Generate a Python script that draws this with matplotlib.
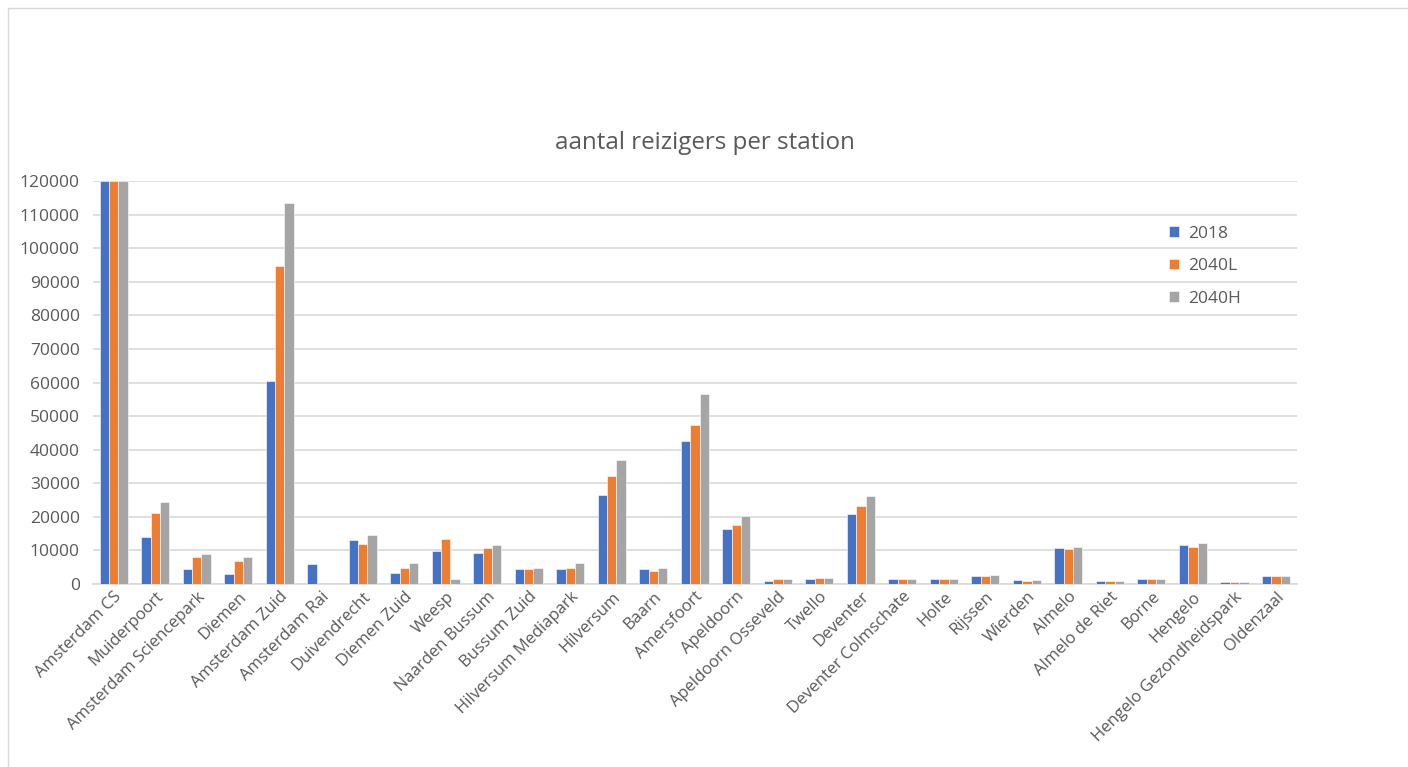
import numpy as np
import matplotlib.pyplot as plt
from matplotlib.lines import Line2D

plt.rcParams['font.family'] = ['Open Sans', 'DejaVu Sans']

stations = ['Amsterdam CS', 'Muiderpoort', 'Amsterdam Sciencepark', 'Diemen',
            'Amsterdam Zuid', 'Amsterdam Rai', 'Duivendrecht', 'Diemen Zuid',
            'Weesp', 'Naarden Bussum', 'Bussum Zuid', 'Hilversum Mediapark',
            'Hilversum', 'Baarn', 'Amersfoort', 'Apeldoorn', 'Apeldoorn Osseveld',
            'Twello', 'Deventer', 'Deventer Colmschate', 'Holte', 'Rijssen',
            'Wierden', 'Almelo', 'Almelo de Riet', 'Borne', 'Hengelo',
            'Hengelo Gezondheidspark', 'Oldenzaal']

r2018 = [120000, 14000, 4500, 3000, 60500, 5900, 13100, 3300, 9900, 9300,
         4400, 4400, 26500, 4400, 42600, 16500, 1000, 1400, 20800, 1400, 1400,
         2500, 1300, 10700, 900, 1600, 11600, 600, 2500]
r2040L = [120000, 21100, 7900, 6700, 94700, 0, 12000, 4700, 13400, 10700,
          4400, 4700, 32200, 3900, 47400, 17700, 1400, 1700, 23100, 1400, 1400,
          2500, 1000, 10400, 900, 1600, 11000, 600, 2500]
r2040H = [120000, 24500, 8900, 7900, 113600, 0, 14500, 6200, 1600, 11600,
          4700, 6200, 37000, 4700, 56500, 20200, 1400, 1900, 26200, 1400, 1400,
          2800, 1300, 11000, 900, 1600, 12200, 600, 2500]

series = ['2018', '2040L', '2040H']
colors = ['#4472C4', '#ED7D31', '#A5A5A5']
text_color = '#595959'

fig = plt.figure(figsize=(14.08, 7.67), dpi=100)
ax = fig.add_axes([0.066, 0.2386, 0.855, 0.5254])

x = np.arange(len(stations))
w = 0.225
for k, (vals, name, c) in enumerate(zip([r2018, r2040L, r2040H], series, colors)):
    ax.bar(x + (k - 1) * w, vals, width=w, color=c, edgecolor='white',
           linewidth=0.4, label=name, zorder=3)

ax.set_xlim(-0.5, len(stations) - 0.5)
ax.set_ylim(0, 120000)
ax.set_yticks(np.arange(0, 120001, 10000))
ax.set_yticklabels([str(v) for v in range(0, 120001, 10000)])
ax.yaxis.grid(True, color='#d9d9d9', linewidth=1.2, zorder=0)
ax.set_axisbelow(True)
for s in ['top', 'right', 'left']:
    ax.spines[s].set_visible(False)
ax.spines['bottom'].set_color('#d9d9d9')
ax.spines['bottom'].set_linewidth(1.2)
ax.tick_params(axis='both', length=0, colors=text_color, labelsize=12)
ax.tick_params(axis='y', pad=9.5, labelsize=12.5)

ax.set_xticks(x)
ax.set_xticklabels(stations, rotation=45, ha='right', rotation_mode='anchor')

fig.text(0.501, 0.8136, 'aantal reizigers per station', ha='center', va='center',
         fontsize=17.4, color=text_color)

fig.legend(loc='upper left', bbox_to_anchor=(0.8194, 0.726), frameon=False,
           fontsize=12.5, labelcolor=text_color, handlelength=0.55,
           handleheight=0.55, labelspacing=0.95, handletextpad=0.55)

# chart area border
fig.add_artist(Line2D([0.0057, 0.0057], [0, 0.9896], color='#d9d9d9', linewidth=1,
                      transform=fig.transFigure))
fig.add_artist(Line2D([0.0057, 1], [0.9896, 0.9896], color='#d9d9d9', linewidth=1,
                      transform=fig.transFigure))

fig.savefig('out.png', dpi=100)
